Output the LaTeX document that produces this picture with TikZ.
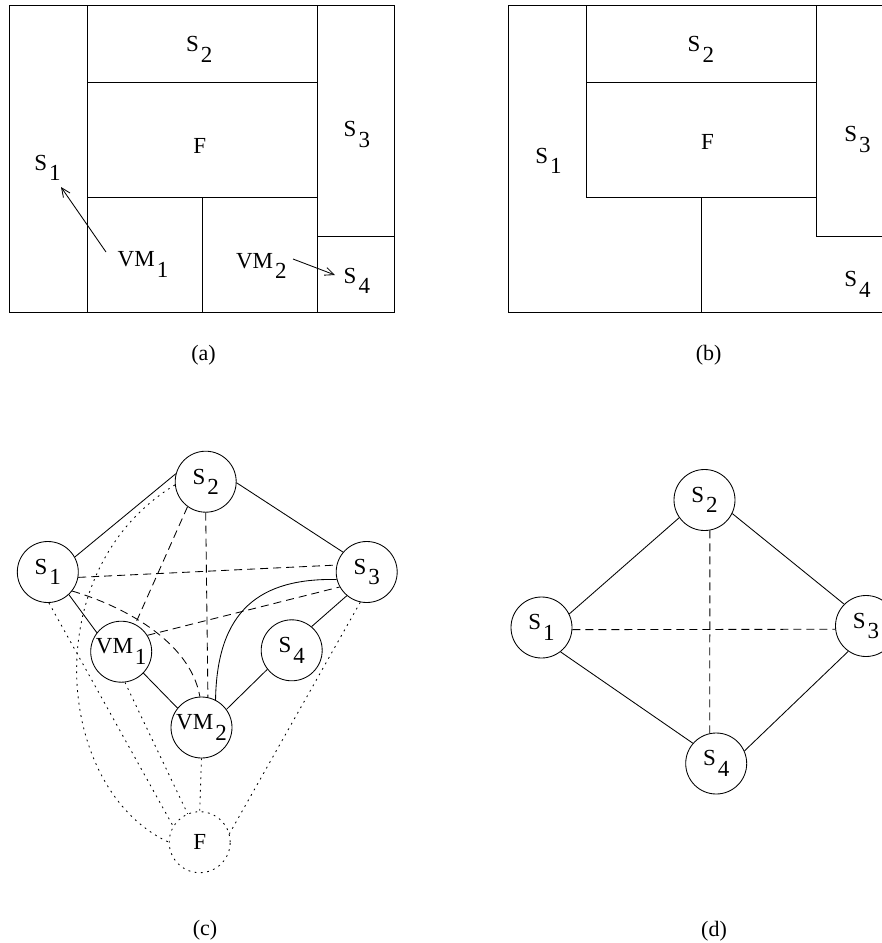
\documentclass[tikz,border=0pt]{standalone}
\usepackage{fontspec}
\setmainfont{Liberation Serif}
\usetikzlibrary{arrows.meta}
\newcommand{\lbl}[2]{#1\kern2pt\lower0.46em\hbox{#2}}
\begin{document}
\begin{tikzpicture}[x=1pt,y=-1pt,line width=0.85pt,
  txt/.style={font=\fontsize{23}{27}\selectfont},
  lab/.style={txt,anchor=base west,inner sep=0pt},
  captxt/.style={font=\fontsize{22}{26}\selectfont,inner sep=0pt},
  circ/.style={txt,circle,draw,minimum size=61pt,inner sep=0pt},
  dashline/.style={dash pattern=on 8pt off 5pt},
  dotline/.style={dash pattern=on 1.8pt off 4.5pt},
  arr/.style={-{Straight Barb[length=9pt,width=8pt]}}]
\useasboundingbox (0,0) rectangle (882,943);

% ---------- (a) ----------
\draw (9.5,5) rectangle (394,312);
\draw (87,5) -- (87,312);
\draw (317,5) -- (317,312);
\draw (87,82) -- (317,82);
\draw (87,197) -- (317,197);
\draw (202,197) -- (202,312);
\draw (317,236) -- (394,236);
\node[lab] (a-s2) at (185.7,51.7) {\lbl{S}{2}};
\node[lab] (a-f) at (193,153.3) {F};
\node[lab] (a-s3) at (343.3,136.7) {\lbl{S}{3}};
\node[lab] (a-s1) at (34,170) {\lbl{S}{1}};
\node[lab] (a-vm1) at (117.3,266.7) {\lbl{VM}{1}};
\node[lab] (a-vm2) at (235.7,268.3) {\lbl{VM}{2}};
\node[lab] (a-s4) at (343.3,283.3) {\lbl{S}{4}};
\coordinate (a1s) at (106,252);
\coordinate (a1e) at (61,187);
\coordinate (a2s) at (293,259);
\coordinate (a2e) at (335,275);
\draw[arr] (a1s) -- (a1e);
\draw[arr] (a2s) -- (a2e);
\node[captxt] (cap-a) at (203.5,355.5) {(a)};

% ---------- (b) ----------
\draw (886,5) -- (508,5) -- (508,312) -- (886,312);
\draw (586,5) -- (586,197) -- (816,197);
\draw (586,82) -- (816,82);
\draw (816,5) -- (816,236) -- (886,236);
\draw (701,197) -- (701,312);
\node[lab] (b-s2) at (687.3,51.7) {\lbl{S}{2}};
\node[lab] (b-f) at (700.7,149) {F};
\node[lab] (b-s1) at (535,163.3) {\lbl{S}{1}};
\node[lab] (b-s3) at (844,141.7) {\lbl{S}{3}};
\node[lab] (b-s4) at (844,286.7) {\lbl{S}{4}};
\node[captxt] (cap-b) at (708.7,355.5) {(b)};

% ---------- (c) ----------
\node[circ] (c-s2) at (205.7,481.7) {\lbl{S}{2}};
\node[circ] (c-s1) at (47.8,572) {\lbl{S}{1}};
\node[circ] (c-s3) at (366.7,572) {\lbl{S}{3}};
\node[circ] (c-vm1) at (121.2,651.7) {\lbl{VM}{1}};
\node[circ] (c-s4) at (291.7,650.3) {\lbl{S}{4}};
\node[circ] (c-vm2) at (201.5,727.5) {\lbl{VM}{2}};
\node[circ,dotline] (c-f) at (199.7,842.2) {F};
% solid
\draw (c-s1.29) -- (c-s2.165);
\draw (c-s2.-2) -- (c-s3.140);
\draw (c-s1.-47) -- (c-vm1.142);
\draw (c-vm1.-44) -- (c-vm2.141);
\draw (c-vm2.36) -- (c-s4.218);
\draw (c-s4.50) -- (c-s3.230);
\draw (c-vm2.63) .. controls (217,610) and (260,578) .. (c-s3.194);
% dashed
\draw[dashline] (c-s1.-10) -- (c-s3.167);
\draw[dashline] (c-s2.234) -- (c-vm1.63);
\draw[dashline] (c-s2.-90) -- (c-vm2.78);
\draw[dashline] (c-vm1.32) -- (c-s3.209);
\draw[dashline] (c-s1.-38) .. controls (120,605) and (190,640) .. (c-vm2.93);
% dotted
\draw[dotline] (c-s2.186) .. controls (35,570) and (55,790) .. (c-f.180);
\draw[dotline] (c-s1.-88) -- (c-f.149);
\draw[dotline] (c-vm1.-83) -- (c-f.113);
\draw[dotline] (c-vm2.-90) -- (c-f.90);
\draw[dotline] (c-s3.-102) -- (c-f.16);
\node[captxt] (cap-c) at (205,930.5) {(c)};

% ---------- (d) ----------
\node[circ] (d-s2) at (704.5,500) {\lbl{S}{2}};
\node[circ] (d-s1) at (541.5,627.5) {\lbl{S}{1}};
\node[circ] (d-s3) at (866,626) {\lbl{S}{3}};
\node[circ] (d-s4) at (716.2,763.5) {\lbl{S}{4}};
\draw (d-s1.26) -- (d-s2.215);
\draw (d-s2.-26) -- (d-s3.135);
\draw (d-s1.-52) -- (d-s4.139);
\draw (d-s4.24) -- (d-s3.235);
\draw[dashline] (d-s1.-4) -- (d-s3.186);
\draw[dashline] (d-s2.-80) -- (d-s4.102);
\node[captxt] (cap-d) at (714,931) {(d)};
\end{tikzpicture}
\end{document}
